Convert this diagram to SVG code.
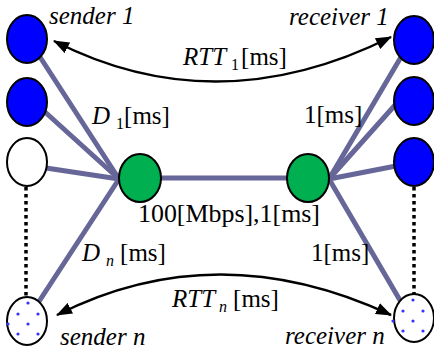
<svg xmlns="http://www.w3.org/2000/svg" width="434" height="356" viewBox="0 0 434 356">
<style>
.link{stroke:#666699;stroke-width:5;fill:none;stroke-linecap:round}
.dot{stroke:#000;stroke-width:3.5;stroke-dasharray:3.5 3.5;fill:none}
.node{stroke:#000;stroke-width:2}
.blue{fill:#0000ff}
.green{fill:#00b050}
.white{fill:#fff}
.bd{fill:#3333ff}
.arr{stroke:#000;stroke-width:2.5;fill:none}
.lbl{font-family:'Liberation Serif','Times New Roman',serif;font-size:25px;fill:#000}
.it{font-style:italic}
.sub{font-size:16px}
</style>
<defs>
<marker id="ah" viewBox="0 0 16 12" refX="15" refY="6" markerWidth="16" markerHeight="12" markerUnits="userSpaceOnUse" orient="auto">
<path d="M0,0 L16,6 L0,12 z" fill="#000"/>
</marker>
<marker id="ahs" viewBox="0 0 16 12" refX="1" refY="6" markerWidth="16" markerHeight="12" markerUnits="userSpaceOnUse" orient="auto">
<path d="M16,0 L0,6 L16,12 z" fill="#000"/>
</marker>
<g id="dots">
<circle cx="0" cy="-18" r="1.6" class="bd"/>
<circle cx="-10" cy="-7" r="1.6" class="bd"/>
<circle cx="10" cy="-7" r="1.6" class="bd"/>
<circle cx="0" cy="3" r="1.6" class="bd"/>
<circle cx="-20" cy="3" r="1.6" class="bd"/>
<circle cx="-10" cy="13" r="1.6" class="bd"/>
<circle cx="10" cy="13" r="1.6" class="bd"/>
</g>
</defs>
<rect width="434" height="356" fill="#fff"/>
<g id="connectors">
<path class="link" d="M119,179 L40,57"/>
<path class="link" d="M119,179 L45,112"/>
<path class="link" d="M119,179 L46,168"/>
<path class="link" d="M119,179 L38,303"/>
<path class="link" d="M140,178 L308,178"/>
<path class="link" d="M329,179 L401,57"/>
<path class="link" d="M329,179 L396,104"/>
<path class="link" d="M329,179 L396,166"/>
<path class="link" d="M329,179 L401,302"/>
<path class="dot" d="M26,187 L26,297"/>
<path class="dot" d="M414,187 L414,295"/>
<path class="arr" marker-start="url(#ahs)" marker-end="url(#ah)" d="M54,41 Q217,124 391,37"/>
<path class="arr" marker-start="url(#ahs)" marker-end="url(#ah)" d="M57,315 Q217,234 391,315"/>
</g>
<g id="sender1"><ellipse class="node blue" cx="27" cy="39" rx="20" ry="24"/></g>
<g id="sender2"><ellipse class="node blue" cx="27" cy="102" rx="20" ry="24"/></g>
<g id="sender3"><ellipse class="node white" cx="27" cy="162" rx="20" ry="24"/></g>
<g id="sendern"><ellipse class="node white" cx="27" cy="321" rx="20" ry="24"/><use href="#dots" x="28" y="321"/></g>
<g id="receiver1"><ellipse class="node blue" cx="414" cy="40" rx="20" ry="24"/></g>
<g id="receiver2"><ellipse class="node blue" cx="414" cy="101" rx="20" ry="24"/></g>
<g id="receiver3"><ellipse class="node blue" cx="414" cy="162" rx="20" ry="24"/></g>
<g id="receivern"><ellipse class="node white" cx="414" cy="318" rx="20" ry="24"/><use href="#dots" x="413" y="318"/></g>
<g id="router1"><ellipse class="node green" cx="140" cy="178" rx="21" ry="24"/></g>
<g id="router2"><ellipse class="node green" cx="308" cy="178" rx="21" ry="24"/></g>
<g id="labels">
<text class="lbl it" x="49" y="24">sender 1</text>
<text class="lbl it" x="289" y="25">receiver 1</text>
<text class="lbl" x="183" y="65"><tspan class="it">RTT</tspan><tspan class="sub" dx="5" dy="5">1</tspan><tspan dx="2" dy="-5">[ms]</tspan></text>
<text class="lbl" x="92" y="124"><tspan class="it">D</tspan><tspan class="sub" dx="6" dy="5">1</tspan><tspan dx="0" dy="-5">[ms]</tspan></text>
<text class="lbl" x="304" y="123">1[ms]</text>
<text class="lbl" x="138" y="222" textLength="182" lengthAdjust="spacingAndGlyphs">100[Mbps],1[ms]</text>
<text class="lbl" x="82" y="261"><tspan class="it">D</tspan><tspan class="sub it" dx="6" dy="5">n</tspan><tspan dx="6" dy="-5">[ms]</tspan></text>
<text class="lbl" x="311" y="261">1[ms]</text>
<text class="lbl" x="172" y="307"><tspan class="it">RTT</tspan><tspan class="sub it" dx="4" dy="5">n</tspan><tspan dx="6" dy="-5">[ms]</tspan></text>
<text class="lbl it" x="60" y="345">sender n</text>
<text class="lbl it" x="285" y="344">receiver n</text>
</g>
</svg>
